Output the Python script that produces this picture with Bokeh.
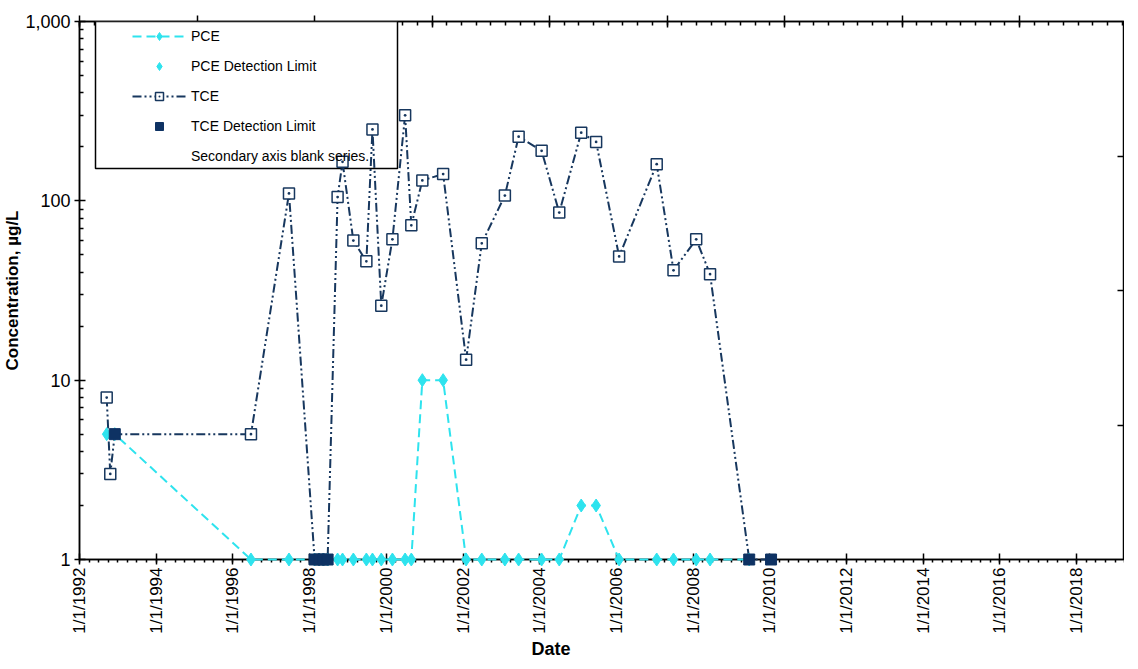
import math
import pandas as pd
from bokeh.plotting import figure
from bokeh.models import (Range1d, LinearAxis, FixedTicker, Legend, LegendItem, LinearScale,
                          BoxAnnotation, Title)
from bokeh.embed import file_html
from bokeh.resources import INLINE

# ---------------- data ----------------
tce_dates = ["1992-09-16", "1992-10-20", "1996-06-21", "1997-06-18", "1998-09-24", "1998-11-10",
             "1999-02-21", "1999-06-25", "1999-08-22", "1999-11-14", "2000-02-28", "2000-06-28",
             "2000-08-26", "2000-12-09", "2001-06-25", "2002-01-30", "2002-06-28", "2003-02-03",
             "2003-06-14", "2004-01-19", "2004-07-05", "2005-01-30", "2005-06-21", "2006-01-26",
             "2007-01-19", "2007-06-28", "2008-01-30", "2008-06-10"]
tce_values = [8, 3, 5, 110, 105, 165, 60, 46, 250, 26, 61, 300, 73, 130, 141, 13, 58, 107,
              228, 190, 86, 240, 213, 49, 160, 41, 61, 39]

tce_dl_dates = ["1992-12-02", "1998-02-17", "1998-04-01", "1998-05-12", "1998-06-21",
                "2009-06-18", "2010-01-12"]
tce_dl_values = [5, 1, 1, 1, 1, 1, 1]

pce_dates = ["1992-09-16", "2000-12-09", "2001-06-25", "2005-01-30", "2005-06-21"]
pce_values = [5, 10, 10, 2, 2]

pce_dl_dates = ["1992-12-02", "1996-06-21", "1997-06-18", "1998-02-17", "1998-04-01", "1998-05-12",
                "1998-06-21", "1998-09-24", "1998-11-10", "1999-02-21", "1999-06-25", "1999-08-22",
                "1999-11-14", "2000-02-28", "2000-06-28", "2000-08-26", "2002-01-30", "2002-06-28",
                "2003-02-03", "2003-06-14", "2004-01-19", "2004-07-05", "2006-01-26", "2007-01-19",
                "2007-06-28", "2008-01-30", "2008-06-10", "2009-06-18"]
pce_dl_values = [5] + [1] * 27

x_tick_years = list(range(1992, 2019, 2))
x_tick_labels = ["1/1/%d" % y for y in x_tick_years]
y_ticks = [1, 10, 100, 1000]
y_tick_labels = ["1", "10", "100", "1,000"]

# ---------------- helpers ----------------
def ms(d):
    return pd.Timestamp(d).value / 1e6

NAVY = "#17375E"
NAVY_DL = "#0E3263"
CYAN = "#2EE3EE"
FONT = "Liberation Sans"

tce_all = sorted(zip([ms(d) for d in tce_dates + tce_dl_dates], tce_values + tce_dl_values))
pce_all = sorted(zip([ms(d) for d in pce_dates + pce_dl_dates], pce_values + pce_dl_values))

FW, FH = 1045, 538
BL = 75
x_start, x_end = ms("1992-01-01"), ms("2019-04-01")

p = figure(frame_width=FW, frame_height=FH, y_axis_type="log",
           x_range=Range1d(x_start, x_end), y_range=Range1d(1, 1000),
           output_backend="svg", toolbar_location=None,
           min_border_left=BL, min_border_right=0, min_border_top=21, min_border_bottom=0)
p.background_fill_color = "white"
p.border_fill_color = "white"
p.outline_line_color = "black"
p.outline_line_width = 1.5
p.xgrid.visible = False
p.ygrid.visible = False

# bottom axis
xa = p.xaxis[0]
xa.ticker = FixedTicker(ticks=[ms("%d-01-01" % y) for y in x_tick_years],
                        minor_ticks=[ms(d) for d in pd.date_range("1992-01-01", "2019-04-01", freq="QS")])
xa.major_label_overrides = {ms("%d-01-01" % y): lab for y, lab in zip(x_tick_years, x_tick_labels)}
xa.major_label_orientation = math.pi / 2
xa.major_label_text_font = FONT
xa.major_label_text_font_size = "17px"
xa.major_label_text_color = "black"
xa.major_label_standoff = 3
xa.major_tick_in = 6
xa.major_tick_out = 5
xa.minor_tick_in = 0
xa.minor_tick_out = 3
xa.axis_line_color = "black"
xa.axis_line_width = 1.5
xa.major_tick_line_width = 1.5
xa.minor_tick_line_width = 1.5

# x axis title, placed left of centre like the original
p.add_layout(Title(text="Date", align="left", offset=452, standoff=0,
                   text_font=FONT, text_font_style="bold", text_font_size="18px",
                   text_color="black"), "below")

# left axis
ya = p.yaxis[0]
minors = [m * d for d in (1, 10, 100) for m in range(2, 10)]
ya.ticker = FixedTicker(ticks=y_ticks, minor_ticks=minors)
ya.major_label_overrides = {t: lab for t, lab in zip(y_ticks, y_tick_labels)}
ya.major_label_text_font = FONT
ya.major_label_text_font_size = "18px"
ya.major_label_text_color = "black"
ya.major_label_standoff = 4
ya.axis_label = "Concentration, µg/L"
ya.axis_label_text_font = FONT
ya.axis_label_text_font_style = "bold"
ya.axis_label_text_font_size = "17px"
ya.axis_label_text_color = "black"
ya.axis_label_standoff = 0
ya.major_tick_in = 6
ya.major_tick_out = 5
ya.minor_tick_in = 4
ya.minor_tick_out = 0
ya.axis_line_color = "black"
ya.axis_line_width = 1.5
ya.major_tick_line_width = 1.5
ya.minor_tick_line_width = 1.5

# top (secondary) axis
top_span = FW / 117.5
p.extra_x_ranges = {"top": Range1d(0, top_span)}
p.extra_x_scales = {"top": LinearScale()}
top = LinearAxis(x_range_name="top",
                 ticker=FixedTicker(ticks=list(range(0, 9)), minor_ticks=[i / 8 for i in range(0, 72)]),
                 major_label_text_font_size="0px", major_label_standoff=0,
                 major_tick_in=6, major_tick_out=6, minor_tick_in=4, minor_tick_out=0,
                 axis_line_color="black", axis_line_width=1.5,
                 major_tick_line_width=1.5, minor_tick_line_width=1.5)
top.major_label_overrides = {i: "" for i in range(0, 9)}
p.add_layout(top, "above")

# right (secondary) axis, blank series
p.extra_y_ranges = {"right": Range1d(0, 4)}
p.extra_y_scales = {"right": LinearScale()}
right = LinearAxis(y_range_name="right", ticker=FixedTicker(ticks=[1, 2, 3], minor_ticks=[]),
                   major_label_text_font_size="0px", major_label_standoff=0,
                   major_tick_in=7, major_tick_out=0, minor_tick_in=0, minor_tick_out=0,
                   axis_line_color="black", axis_line_width=1.5, major_tick_line_width=1.5)
right.major_label_overrides = {i: "" for i in range(0, 5)}
p.add_layout(right, "right")

# legend frame (screen units: from frame left / frame bottom)
box = BoxAnnotation(left=16, right=318, top=FH, bottom=FH - 147,
                    left_units="screen", right_units="screen", top_units="screen", bottom_units="screen",
                    fill_color="white", fill_alpha=1.0, line_color="black", line_width=1.5,
                    line_alpha=1.0)
p.add_layout(box)

# ---------------- glyphs ----------------
pce_line = p.line([a for a, b in pce_all], [b for a, b in pce_all], line_color=CYAN,
                  line_width=2, line_dash="9 5", level="overlay")
tce_line = p.line([a for a, b in tce_all], [b for a, b in tce_all], line_color=NAVY,
                  line_width=2, line_dash="9 3 2 3 2 3", level="overlay")

pce_dl = p.scatter([ms(d) for d in pce_dl_dates], pce_dl_values, marker="diamond", size=13,
                   fill_color=CYAN, line_color=CYAN, level="overlay")
pce_pts = p.scatter([ms(d) for d in pce_dates], pce_values, marker="diamond", size=13,
                    fill_color=CYAN, line_color=CYAN, level="overlay")
tce_pts = p.scatter([ms(d) for d in tce_dates], tce_values, marker="square_dot", size=11,
                    fill_color="white", line_color=NAVY, line_width=1.5, level="overlay")
tce_dl = p.scatter([ms(d) for d in tce_dl_dates], tce_dl_values, marker="square", size=11,
                   fill_color=NAVY_DL, line_color=NAVY_DL, level="overlay")
blank = p.scatter([], [], marker="square", size=1, fill_alpha=0, line_alpha=0)

legend = Legend(items=[
    LegendItem(label="PCE", renderers=[pce_line, pce_pts]),
    LegendItem(label="PCE Detection Limit", renderers=[pce_dl]),
    LegendItem(label="TCE", renderers=[tce_line, tce_pts]),
    LegendItem(label="TCE Detection Limit", renderers=[tce_dl]),
    LegendItem(label="Secondary axis blank series.", renderers=[blank]),
], location=(49, FH - 149), padding=4, spacing=10, glyph_width=54, glyph_height=20,
    label_standoff=5, label_text_font=FONT, label_text_font_size="14px",
    label_text_color="black", border_line_alpha=0.0,
    background_fill_alpha=0.0, margin=0)
p.add_layout(legend, "center")

open("out.html", "w").write(file_html(p, INLINE))
